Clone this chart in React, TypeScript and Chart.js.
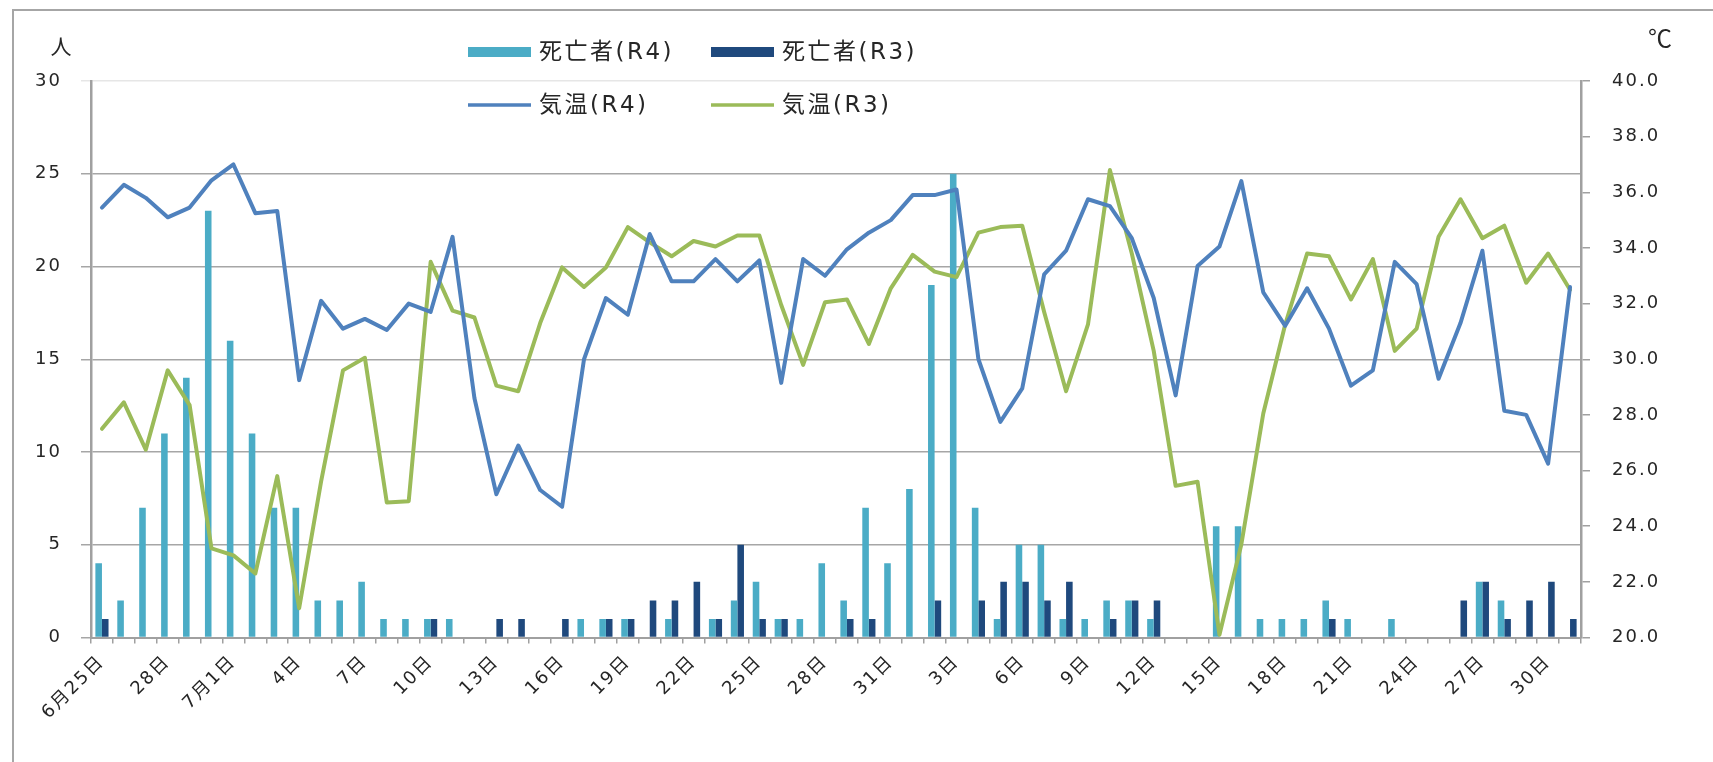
import React, { useEffect, useRef } from 'react';
import { Chart, registerables } from 'chart.js';

Chart.register(...registerables);

// ---- categories (6/25 - 8/31) ----
const dayLabels: string[] = [
  '6月25日', '26日', '27日', '28日', '29日', '30日',
  '7月1日', '2日', '3日', '4日', '5日', '6日', '7日', '8日', '9日', '10日',
  '11日', '12日', '13日', '14日', '15日', '16日', '17日', '18日', '19日', '20日',
  '21日', '22日', '23日', '24日', '25日', '26日', '27日', '28日', '29日', '30日', '31日',
  '8月1日', '2日', '3日', '4日', '5日', '6日', '7日', '8日', '9日', '10日',
  '11日', '12日', '13日', '14日', '15日', '16日', '17日', '18日', '19日', '20日',
  '21日', '22日', '23日', '24日', '25日', '26日', '27日', '28日', '29日', '30日', '31日',
];

// ---- series ----
const deathsR4: number[] = [
  4, 2, 7, 11, 14, 23, 16, 11, 7, 7,
  2, 2, 3, 1, 1, 1, 1, 0, 0, 0,
  0, 0, 1, 1, 1, 0, 1, 0, 1, 2,
  3, 1, 1, 4, 2, 7, 4, 8, 19, 25,
  7, 1, 5, 5, 1, 1, 2, 2, 1, 0,
  0, 6, 6, 1, 1, 1, 2, 1, 0, 1,
  0, 0, 0, 3, 2, 0, 0, 0,
];

const deathsR3: number[] = [
  1, 0, 0, 0, 0, 0, 0, 0, 0, 0,
  0, 0, 0, 0, 0, 1, 0, 0, 1, 1,
  0, 1, 0, 1, 1, 2, 2, 3, 1, 5,
  1, 1, 0, 0, 1, 1, 0, 0, 2, 0,
  2, 3, 3, 2, 3, 0, 1, 2, 2, 0,
  0, 0, 0, 0, 0, 0, 1, 0, 0, 0,
  0, 0, 2, 3, 1, 2, 3, 1,
];

const tempR4: number[] = [
  35.45, 36.27, 35.8, 35.1, 35.45, 36.43, 37.0, 35.25, 35.33, 29.25,
  32.1, 31.1, 31.45, 31.05, 32.0, 31.7, 34.4, 28.6, 25.15, 26.9,
  25.3, 24.7, 30.0, 32.2, 31.6, 34.5, 32.8, 32.8, 33.6, 32.8,
  33.55, 29.15, 33.6, 33.0, 33.95, 34.55, 35.0, 35.9, 35.9, 36.1,
  30.0, 27.75, 28.95, 33.05, 33.9, 35.75, 35.5, 34.35, 32.2, 28.7,
  33.35, 34.05, 36.4, 32.4, 31.2, 32.55, 31.1, 29.05, 29.6, 33.5,
  32.7, 29.3, 31.3, 33.9, 28.15, 28.0, 26.25, 32.6,
];

const tempR3: number[] = [
  27.5, 28.45, 26.75, 29.6, 28.35, 23.2, 22.95, 22.3, 25.8, 21.05,
  25.6, 29.6, 30.05, 24.85, 24.9, 33.5, 31.75, 31.5, 29.05, 28.85,
  31.3, 33.3, 32.6, 33.3, 34.75, 34.2, 33.7, 34.25, 34.05, 34.45,
  34.45, 31.95, 29.8, 32.05, 32.15, 30.55, 32.55, 33.75, 33.15, 32.95,
  34.55, 34.75, 34.8, 31.7, 28.85, 31.25, 36.8, 33.8, 30.3, 25.45,
  25.6, 20.1, 23.35, 28.05, 31.25, 33.8, 33.7, 32.15, 33.6, 30.3,
  31.1, 34.4, 35.75, 34.35, 34.8, 32.75, 33.8, 32.5,
];

const seriesNames: string[] = ['死亡者(R4)', '死亡者(R3)', '気温(R4)', '気温(R3)'];
const leftUnit = '人';
const rightUnit = '℃';

// ---- styles ----
const COLORS = {
  r4Bar: '#4bacc6',
  r3Bar: '#1f497d',
  r4Line: '#4f81bd',
  r3Line: '#9bbb59',
  axis: '#a0a0a0',
  grid: '#a6a6a6',
  text: '#262626',
};
const FONT_FAMILY = '"DejaVu Sans", "Noto Sans CJK JP", sans-serif';

// legend layout: [x of swatch, y center] per dataset index
const LEGEND_POS: [number, number][] = [
  [468, 52],
  [711, 52],
  [468, 105],
  [711, 105],
];

const overlayPlugin = {
  id: 'overlay',
  beforeDraw(chart: any) {
    chart.ctx.letterSpacing = '2px';
  },
  afterDraw(chart: any) {
    const ctx = chart.ctx as CanvasRenderingContext2D;
    ctx.save();
    ctx.letterSpacing = '2.5px';
    ctx.font = `23px ${FONT_FAMILY}`;
    ctx.textBaseline = 'middle';
    ctx.textAlign = 'left';
    chart.data.datasets.forEach((ds: any, i: number) => {
      const [x, y] = LEGEND_POS[i];
      const isBar = ds.type === 'bar';
      if (isBar) {
        ctx.fillStyle = ds.backgroundColor;
        ctx.fillRect(x, y - 5, 63, 10);
      } else {
        ctx.strokeStyle = ds.borderColor;
        ctx.lineWidth = 3.5;
        ctx.beginPath();
        ctx.moveTo(x, y);
        ctx.lineTo(x + 63, y);
        ctx.stroke();
      }
      ctx.fillStyle = COLORS.text;
      ctx.fillText(ds.label, x + 71, y + 1);
    });
    ctx.letterSpacing = '0px';
    ctx.textAlign = 'center';
    ctx.font = `21px "Noto Sans CJK JP", sans-serif`;
    ctx.fillText(leftUnit, 61, 46);
    ctx.font = `24px "Noto Sans CJK JP", sans-serif`;
    ctx.fillText(rightUnit, 1660, 38);
    ctx.restore();
  },
};

export default function App() {
  const ref = useRef<HTMLCanvasElement>(null);

  useEffect(() => {
    const canvas = ref.current;
    if (!canvas) return;
    const tickFont = { family: FONT_FAMILY, size: 18 };
    const chart = new Chart(canvas, {
      data: {
        labels: dayLabels,
        datasets: [
          {
            type: 'bar',
            label: seriesNames[0],
            data: deathsR4,
            backgroundColor: COLORS.r4Bar,
            yAxisID: 'y',
            order: 2,
            categoryPercentage: 0.6,
            barPercentage: 1.0,
          },
          {
            type: 'bar',
            label: seriesNames[1],
            data: deathsR3,
            backgroundColor: COLORS.r3Bar,
            yAxisID: 'y',
            order: 2,
            categoryPercentage: 0.6,
            barPercentage: 1.0,
          },
          {
            type: 'line',
            label: seriesNames[2],
            data: tempR4,
            borderColor: COLORS.r4Line,
            backgroundColor: COLORS.r4Line,
            borderWidth: 4,
            pointRadius: 0,
            tension: 0,
            borderJoinStyle: 'round',
            borderCapStyle: 'round',
            yAxisID: 'y1',
            order: 0,
          },
          {
            type: 'line',
            label: seriesNames[3],
            data: tempR3,
            borderColor: COLORS.r3Line,
            backgroundColor: COLORS.r3Line,
            borderWidth: 4,
            pointRadius: 0,
            tension: 0,
            borderJoinStyle: 'round',
            borderCapStyle: 'round',
            yAxisID: 'y1',
            order: 1,
          },
        ],
      } as any,
      options: {
        responsive: false,
        animation: false,
        devicePixelRatio: 1,
        layout: { padding: { top: 81, left: 0, right: 0, bottom: 0 } },
        plugins: {
          legend: { display: false },
          tooltip: { enabled: false },
          title: { display: false },
        },
        scales: {
          x: {
            type: 'category',
            offset: true,
            grid: {
              display: true,
              offset: true,
              drawOnChartArea: false,
              drawTicks: true,
              tickLength: 6,
              color: COLORS.axis,
              lineWidth: 1.5,
            },
            border: { display: true, color: COLORS.axis, width: 2 },
            ticks: {
              autoSkip: false,
              minRotation: 45,
              maxRotation: 45,
              padding: 8,
              color: COLORS.text,
              font: tickFont,
              callback: (_v: any, idx: number) => (idx % 3 === 0 ? dayLabels[idx] : ''),
            },
            afterFit: (s: any) => {
              s.height = 762 - 637.5;
            },
          },
          y: {
            type: 'linear',
            position: 'left',
            min: 0,
            max: 30,
            grid: {
              color: (c: any) => (c.tick && c.tick.value === 30 ? '#e6e6e6' : COLORS.grid),
              lineWidth: 1.5,
              tickLength: 10,
              drawTicks: true,
            },
            border: { display: true, color: COLORS.axis, width: 2.5 },
            ticks: {
              stepSize: 5,
              padding: 19,
              color: COLORS.text,
              font: tickFont,
            },
            afterFit: (s: any) => {
              s.width = 91;
            },
          },
          y1: {
            type: 'linear',
            position: 'right',
            min: 20,
            max: 40,
            grid: {
              drawOnChartArea: false,
              drawTicks: true,
              tickLength: 9,
              color: COLORS.axis,
              lineWidth: 1.5,
            },
            border: { display: true, color: COLORS.axis, width: 2.5 },
            ticks: {
              stepSize: 2,
              padding: 22,
              color: COLORS.text,
              font: tickFont,
              callback: (v: any) => Number(v).toFixed(1),
            },
            afterFit: (s: any) => {
              s.width = 1713 - 1581;
            },
          },
        },
      } as any,
      plugins: [overlayPlugin],
    });
    return () => chart.destroy();
  }, []);

  return (
    <div
      style={{
        position: 'absolute',
        left: 0,
        top: 0,
        width: 1713,
        height: 762,
        background: '#ffffff',
        overflow: 'hidden',
      }}
    >
      <canvas ref={ref} width={1713} height={762} style={{ display: 'block', width: 1713, height: 762 }} />
      <div
        style={{
          position: 'absolute',
          left: 12,
          top: 9,
          width: 1720,
          height: 780,
          borderLeft: '2px solid #a6a6a6',
          borderTop: '2px solid #a6a6a6',
          pointerEvents: 'none',
        }}
      />
    </div>
  );
}
